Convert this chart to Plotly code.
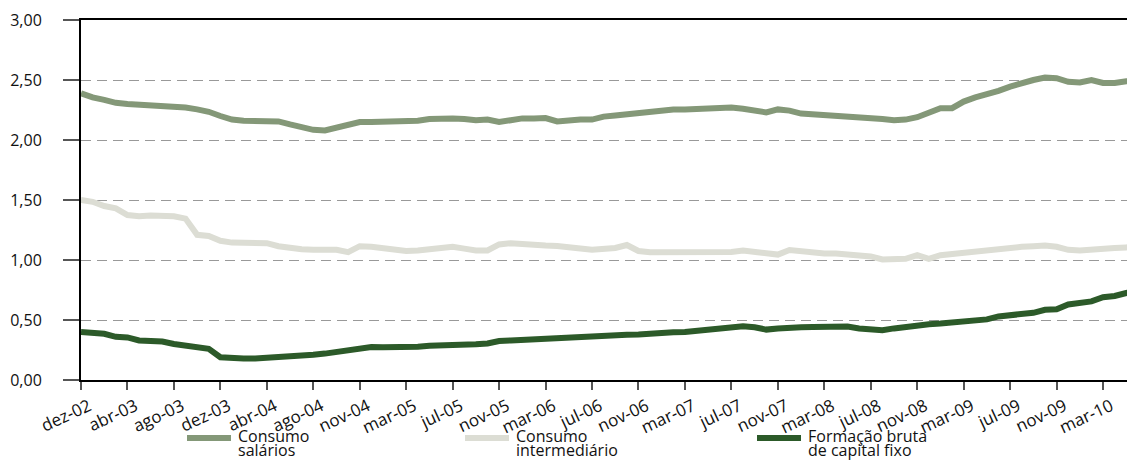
import plotly.graph_objects as go

# Tick labels (every 4th category)
tick_labels = ["dez-02", "abr-03", "ago-03", "dez-03", "abr-04", "ago-04", "nov-04",
               "mar-05", "jul-05", "nov-05", "mar-06", "jul-06", "nov-06", "mar-07",
               "jul-07", "nov-07", "mar-08", "jul-08", "nov-08", "mar-09", "jul-09",
               "nov-09", "mar-10"]

consumo_salarios = [
    2.39, 2.355, 2.335, 2.31, 2.30, 2.295, 2.28, 2.275, 2.275, 2.27,
    2.255, 2.235, 2.20, 2.17, 2.16, 2.16, 2.155, 2.155, 2.13, 2.105,
    2.085, 2.08, 2.10, 2.12, 2.15, 2.15, 2.15, 2.15, 2.15, 2.16,
    2.175, 2.18, 2.18, 2.175, 2.165, 2.17, 2.15, 2.165, 2.18, 2.18,
    2.183, 2.155, 2.165, 2.17, 2.17, 2.195, 2.205, 2.215, 2.235, 2.245,
    2.25, 2.255, 2.255, 2.26, 2.26, 2.265, 2.27, 2.26, 2.245, 2.23,
    2.255, 2.245, 2.22, 2.215, 2.21, 2.20, 2.195, 2.19, 2.185, 2.175,
    2.165, 2.17, 2.19, 2.23, 2.265, 2.265, 2.32, 2.355, 2.38, 2.41,
    2.445, 2.475, 2.50, 2.52, 2.515, 2.485, 2.48, 2.50, 2.475, 2.475,
    2.49, 2.49]

consumo_intermediario = [
    1.50, 1.485, 1.45, 1.43, 1.375, 1.365, 1.37, 1.37, 1.365, 1.345,
    1.21, 1.20, 1.16, 1.145, 1.145, 1.14, 1.14, 1.115, 1.10, 1.09,
    1.085, 1.08, 1.085, 1.065, 1.115, 1.11, 1.10, 1.085, 1.075, 1.08,
    1.09, 1.095, 1.11, 1.095, 1.08, 1.08, 1.13, 1.14, 1.13, 1.125,
    1.12, 1.117, 1.10, 1.095, 1.085, 1.09, 1.10, 1.125, 1.075, 1.065,
    1.065, 1.065, 1.07, 1.072, 1.075, 1.075, 1.067, 1.078, 1.065, 1.05,
    1.045, 1.083, 1.07, 1.057, 1.055, 1.055, 1.045, 1.03, 1.03, 1.005,
    1.005, 1.01, 1.04, 1.01, 1.04, 1.05, 1.07, 1.075, 1.085, 1.095,
    1.10, 1.11, 1.115, 1.12, 1.11, 1.085, 1.08, 1.083, 1.09, 1.10,
    1.105, 1.11]

formacao_bruta = [
    0.40, 0.395, 0.385, 0.36, 0.355, 0.33, 0.33, 0.32, 0.30, 0.29,
    0.275, 0.26, 0.19, 0.18, 0.18, 0.18, 0.185, 0.187, 0.19, 0.20,
    0.21, 0.22, 0.235, 0.24, 0.265, 0.275, 0.272, 0.27, 0.268, 0.278,
    0.285, 0.286, 0.288, 0.29, 0.298, 0.305, 0.325, 0.33, 0.335, 0.345,
    0.355, 0.358, 0.362, 0.365, 0.37, 0.38, 0.385, 0.378, 0.38, 0.39,
    0.397, 0.398, 0.40, 0.41, 0.42, 0.428, 0.435, 0.448, 0.44, 0.42,
    0.43, 0.44, 0.44, 0.442, 0.445, 0.45, 0.445, 0.43, 0.42, 0.415,
    0.43, 0.445, 0.455, 0.465, 0.47, 0.478, 0.485, 0.495, 0.505, 0.53,
    0.54, 0.545, 0.56, 0.585, 0.59, 0.63, 0.643, 0.655, 0.69, 0.70,
    0.725, 0.745]

series_names = [("Consumo", "salários"), ("Consumo", "intermediário"),
                ("Formação bruta", "de capital fixo")]
series_colors = ["#849878", "#DCDDD4", "#2C5A29"]

x_idx = list(range(len(consumo_salarios)))
tick_pos = list(range(0, 4 * len(tick_labels), 4))

FONT = "Open Sans"
OFF = 8  # default body margin of the page
W, H = 1135 - OFF, 460 - OFF
ML, MR, MT, MB = 81 - OFF, 0, 20 - OFF, 80
PW, PH = W - ML - MR, H - MT - MB


def px(xp):
    """page pixel x -> paper coordinate"""
    return (xp - OFF - ML) / PW


def py(yp):
    """page pixel y -> paper coordinate"""
    return (H - MB - (yp - OFF)) / PH


fig = go.Figure()
for (n1, n2), ys, col in zip(series_names,
                             [consumo_salarios, consumo_intermediario, formacao_bruta],
                             series_colors):
    fig.add_trace(go.Scatter(x=x_idx, y=ys, name=f"{n1} {n2}", mode="lines",
                             line=dict(color=col, width=6), showlegend=False))

# Manual legend (two-line labels with tight line spacing)
legend_x = [187, 465, 757]
annotations = []
shapes = []
for (n1, n2), col, lx in zip(series_names, series_colors, legend_x):
    shapes.append(dict(type="line", xref="paper", yref="paper",
                       x0=px(lx), x1=px(lx + 44), y0=py(438), y1=py(438),
                       line=dict(color=col, width=6)))
    for txt, yy in [(n1, 436), (n2, 450)]:
        annotations.append(dict(text=txt, xref="paper", yref="paper",
                                x=px(lx + 49), y=py(yy), xanchor="left",
                                yanchor="middle", showarrow=False,
                                font=dict(size=16, color="#111", family=FONT)))

fig.update_layout(
    width=W, height=H,
    margin=dict(l=ML, r=MR, t=MT, b=MB, autoexpand=False),
    paper_bgcolor="white", plot_bgcolor="white",
    font=dict(family=FONT, size=16, color="#111"),
    showlegend=False,
    shapes=shapes, annotations=annotations,
)
fig.update_xaxes(
    range=[0, 90.75], tickvals=tick_pos, ticktext=tick_labels, tickangle=-25,
    showgrid=False, showline=True, linecolor="#000", linewidth=2, mirror=True,
    ticks="outside", ticklen=8, tickcolor="#555", tickwidth=1.5,
    ticklabelshift=8, tickfont=dict(size=17), zeroline=False, automargin=False,
)
fig.update_yaxes(
    range=[0, 3], tickvals=[0, 0.5, 1, 1.5, 2, 2.5, 3],
    ticktext=["0,00", "0,50", "1,00", "1,50", "2,00", "2,50", "3,00"],
    showgrid=True, gridcolor="#999", griddash="10px,6px", gridwidth=1,
    showline=True, linecolor="#000", linewidth=2,
    ticks="outside", ticklen=16, tickcolor="#555", tickwidth=1.5,
    ticklabelstandoff=18, tickfont=dict(size=16), zeroline=False, automargin=False,
)

fig.write_html("out.html")
